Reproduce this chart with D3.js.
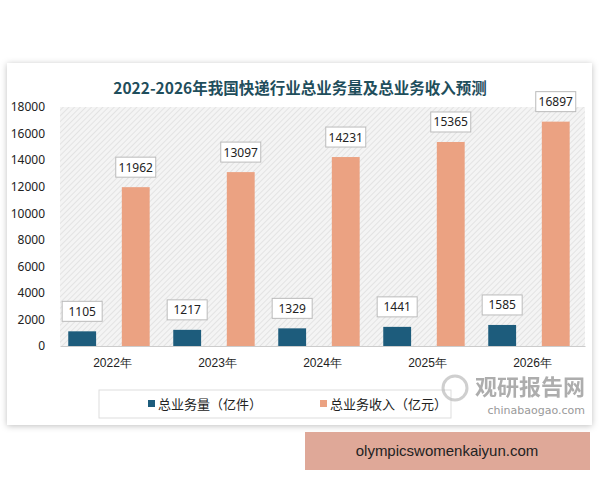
<!DOCTYPE html>
<html>
<head>
<meta charset="UTF-8">
<script src="https://d3js.org/d3.v7.min.js"></script>
<style>
  body { margin: 0; background: #fff; }
  svg { font-family: "Noto Sans CJK SC", "Noto Sans", sans-serif; }
</style>
</head>
<body>
<svg id="chart" width="600" height="480"></svg>
<script>
var years = ["2022年", "2023年", "2024年", "2025年", "2026年"];
var volume = [1105, 1217, 1329, 1441, 1585];
var revenue = [11962, 13097, 14231, 15365, 16897];
var yTicks = [0, 2000, 4000, 6000, 8000, 10000, 12000, 14000, 16000, 18000];
var seriesNames = ["总业务量（亿件）", "总业务收入（亿元）"];
var colors = ["#1d5c7c", "#eba282"];

var svg = d3.select("#chart");
var defs = svg.append("defs");
var f = defs.append("filter").attr("id", "sh").attr("x", -0.05).attr("y", -0.05).attr("width", 1.1).attr("height", 1.1);
f.append("feDropShadow").attr("dx", 0).attr("dy", 1).attr("stdDeviation", 3).attr("flood-color", "#000").attr("flood-opacity", 0.25);
var pat = defs.append("pattern").attr("id", "hatch").attr("width", 4).attr("height", 4)
  .attr("patternUnits", "userSpaceOnUse").attr("patternTransform", "rotate(45)");
pat.append("rect").attr("width", 4).attr("height", 4).attr("fill", "#f4f4f4");
pat.append("line").attr("x1", 0).attr("y1", 0).attr("x2", 0).attr("y2", 4).attr("stroke", "#d8d8d8").attr("stroke-width", 1.2);

// card
svg.append("rect").attr("x", 7).attr("y", 63).attr("width", 585).attr("height", 362)
  .attr("fill", "#fff").attr("filter", "url(#sh)");

svg.append("text").attr("x", 300).attr("y", 94).attr("text-anchor", "middle")
  .attr("font-family", "'Noto Sans CJK SC', serif").attr("font-weight", "bold").attr("font-size", 15.5)
  .attr("fill", "#1f4e5c").text("2022-2026年我国快递行业总业务量及总业务收入预测");

var pLeft = 60, pRight = 585, pTop = 107, pBottom = 346;
var x = d3.scaleBand().domain(years).range([pLeft, pRight]);
var y = d3.scaleLinear().domain([0, 18000]).range([pBottom, pTop]);
var sub = d3.scaleBand().domain([0, 1]).range([0, x.bandwidth()]).paddingInner(0.48).paddingOuter(0.22).align(0.35);

svg.append("rect").attr("x", pLeft).attr("y", pTop).attr("width", pRight - pLeft).attr("height", pBottom - pTop)
  .attr("fill", "url(#hatch)");

var yAxis = svg.append("g").attr("transform", "translate(" + (pLeft - 15) + ",0)")
  .call(d3.axisLeft(y).tickValues(yTicks).tickSize(0).tickPadding(0).tickFormat(d3.format("d")));
yAxis.select(".domain").remove();
yAxis.selectAll("text").attr("font-size", 12).attr("fill", "#222").attr("font-family", "'Noto Sans', sans-serif");

var xAxis = svg.append("g").attr("transform", "translate(0," + pBottom + ")")
  .call(d3.axisBottom(x).tickSize(0).tickPadding(12));
xAxis.select(".domain").attr("stroke", "#ccc");
xAxis.selectAll("text").attr("font-size", 12).attr("fill", "#222");

[volume, revenue].forEach(function (vals, si) {
  var g = svg.append("g");
  g.selectAll("rect.bar").data(vals).enter().append("rect").attr("class", "bar")
    .attr("x", function (d, i) { return x(years[i]) + sub(si); })
    .attr("width", sub.bandwidth())
    .attr("y", function (d) { return y(d); })
    .attr("height", function (d) { return pBottom - y(d); })
    .attr("fill", colors[si]);
  g.selectAll("rect.lbl").data(vals).enter().append("rect").attr("class", "lbl")
    .attr("x", function (d, i) { return x(years[i]) + sub(si) + sub.bandwidth() / 2 - 20; })
    .attr("y", function (d) { return y(d) - 30; })
    .attr("width", 40).attr("height", 20)
    .attr("fill", "#fff").attr("stroke", "#bbb");
  g.selectAll("text").data(vals).enter().append("text")
    .attr("x", function (d, i) { return x(years[i]) + sub(si) + sub.bandwidth() / 2; })
    .attr("y", function (d) { return y(d) - 15.5; })
    .attr("text-anchor", "middle").attr("font-size", 12).attr("fill", "#222")
    .attr("font-family", "'Noto Sans', sans-serif")
    .text(function (d) { return d; });
});

// legend
svg.append("rect").attr("x", 99).attr("y", 390).attr("width", 352).attr("height", 28)
  .attr("fill", "#fff").attr("stroke", "#ddd");
var lx = [148, 320];
seriesNames.forEach(function (n, i) {
  svg.append("rect").attr("x", lx[i]).attr("y", 400).attr("width", 7).attr("height", 7).attr("fill", colors[i]);
  svg.append("text").attr("x", lx[i] + 10).attr("y", 409).attr("font-size", 13).attr("fill", "#222").text(n);
});

// watermark
svg.append("circle").attr("cx", 455).attr("cy", 388).attr("r", 12).attr("fill", "none")
  .attr("stroke", "#bbb").attr("stroke-width", 3).attr("opacity", 0.7);
svg.append("text").attr("x", 585).attr("y", 395).attr("text-anchor", "end").attr("font-size", 22)
  .attr("font-weight", "bold").attr("fill", "#999").attr("opacity", 0.8).text("观研报告网");
svg.append("text").attr("x", 585).attr("y", 414).attr("text-anchor", "end").attr("font-size", 11)
  .attr("fill", "#999").attr("font-family", "'DejaVu Sans', sans-serif").text("chinabaogao.com");

svg.append("rect").attr("x", 305).attr("y", 432).attr("width", 285).attr("height", 38).attr("fill", "#dfa898");
svg.append("text").attr("x", 447).attr("y", 456).attr("text-anchor", "middle").attr("font-size", 15)
  .attr("font-family", "'Liberation Sans', Arial, sans-serif").attr("fill", "#222").text("olympicswomenkaiyun.com");
</script>
</body>
</html>
